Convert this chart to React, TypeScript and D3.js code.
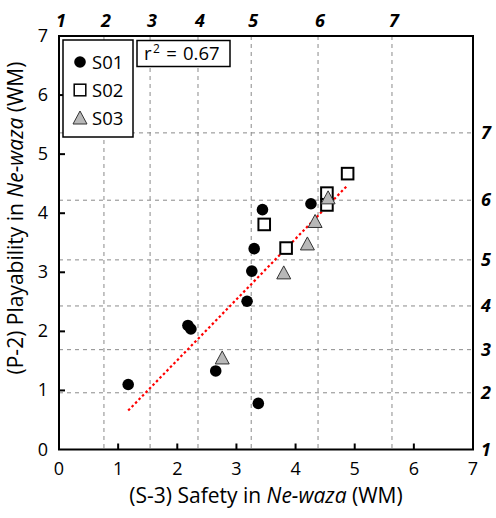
import React from "react";
import * as d3 from "d3";

// ---- data ----
const s01X = [1.17, 2.18, 2.23, 2.65, 3.37, 3.18, 3.26, 3.30, 3.44, 4.26];
const s01Y = [1.10, 2.10, 2.04, 1.33, 0.78, 2.51, 3.02, 3.40, 4.06, 4.16];
const s02X = [3.47, 3.84, 4.53, 4.53, 4.88];
const s02Y = [3.81, 3.41, 4.34, 4.14, 4.67];
const s03X = [2.76, 3.80, 4.20, 4.33, 4.55];
const s03Y = [1.55, 2.99, 3.48, 3.86, 4.26];

const mainTicks = [0, 1, 2, 3, 4, 5, 6, 7];
const topLabels = ["1", "2", "3", "4", "5", "6", "7"];
const topPositions = [0, 0.76, 1.54, 2.35, 3.25, 4.38, 5.63];
const rightLabels = ["1", "2", "3", "4", "5", "6", "7"];
const rightPositions = [0, 0.96, 1.69, 2.43, 3.21, 4.22, 5.36];
const seriesNames = ["S01", "S02", "S03"];
const r2Text = "0.67";

const xTitle = "(S-3) Safety in ";
const yTitle = "(P-2) Playability in ";

export default function App() {
  const W = 496, H = 518;
  const left = 59, right = 473, top = 36, bottom = 449.5;
  const x = d3.scaleLinear().domain([0, 7]).range([left, right]);
  const y = d3.scaleLinear().domain([0, 7]).range([bottom, top]);

  const font = "'Open Sans', sans-serif";

  // regression over all points
  const allX = [...s01X, ...s02X, ...s03X];
  const allY = [...s01Y, ...s02Y, ...s03Y];
  const mx = d3.mean(allX)!, my = d3.mean(allY)!;
  let sxy = 0, sxx = 0;
  allX.forEach((v, i) => { sxy += (v - mx) * (allY[i] - my); sxx += (v - mx) ** 2; });
  const slope = sxy / sxx;
  const icpt = my - slope * mx;
  const x0 = d3.min(allX)!, x1 = d3.max(allX)!;
  const line = d3.line<number>().x(d => x(d)).y(d => y(icpt + slope * d));

  const gridStyle = { stroke: "#8a8a8a", strokeWidth: 1, strokeDasharray: "4,4" };
  const triPath = (cx: number, cy: number, w = 14, h = 12) =>
    `M${cx},${cy - h / 2 - 1}L${cx + w / 2},${cy + h / 2}L${cx - w / 2},${cy + h / 2}Z`;

  return (
    <svg width={W} height={H} style={{ position: "absolute", left: 0, top: 0, background: "#fff" }}>
      <rect x={0} y={0} width={W} height={H} fill="#fff" />
      {/* grid */}
      {topPositions.slice(1).map((p, i) => (
        <line key={"vg" + i} x1={x(p)} x2={x(p)} y1={top} y2={bottom} style={gridStyle} />
      ))}
      {rightPositions.slice(1).map((p, i) => (
        <line key={"hg" + i} x1={left} x2={right} y1={y(p)} y2={y(p)} style={gridStyle} />
      ))}
      {/* regression */}
      <path d={line([x0, x1]) || ""} fill="none" stroke="#ff0000" strokeWidth={2.2} strokeDasharray="2.5,2.5" />
      {/* points */}
      {s01X.map((v, i) => (
        <circle key={"a" + i} cx={x(v)} cy={y(s01Y[i])} r={5.8} fill="#000" />
      ))}
      {s02X.map((v, i) => (
        <rect key={"b" + i} x={x(v) - 5.8} y={y(s02Y[i]) - 5.8} width={11.6} height={11.6} fill="#fff" stroke="#000" strokeWidth={2} />
      ))}
      {s03X.map((v, i) => (
        <path key={"c" + i} d={triPath(x(v), y(s03Y[i]))} fill="#b8b8b8" stroke="#333" strokeWidth={1} />
      ))}
      {/* frame */}
      <rect x={left} y={top} width={right - left} height={bottom - top} fill="none" stroke="#000" strokeWidth={2} />
      {/* inner ticks */}
      {mainTicks.slice(1, 7).map(t => (
        <line key={"bt" + t} x1={x(t)} x2={x(t)} y1={bottom} y2={bottom - 6} stroke="#000" strokeWidth={2} />
      ))}
      {mainTicks.slice(1, 7).map(t => (
        <line key={"lt" + t} x1={left} x2={left + 6} y1={y(t)} y2={y(t)} stroke="#000" strokeWidth={2} />
      ))}
      {/* bottom labels */}
      {mainTicks.map(t => (
        <text key={"bl" + t} x={x(t)} y={475} textAnchor="middle" fontFamily={font} fontSize={18} fill="#000">{t}</text>
      ))}
      {mainTicks.map(t => (
        <text key={"ll" + t} x={48} y={y(t) + 6} textAnchor="end" fontFamily={font} fontSize={18} fill="#000">{t}</text>
      ))}
      {/* top labels */}
      {topLabels.map((l, i) => (
        <text key={"tl" + i} x={x(topPositions[i]) + 2} y={27} textAnchor="middle" fontFamily={font} fontSize={18} fontWeight="bold" fontStyle="italic" fill="#000">{l}</text>
      ))}
      {rightLabels.map((l, i) => (
        <text key={"rl" + i} x={481} y={y(rightPositions[i]) + 6} textAnchor="start" fontFamily={font} fontSize={18} fontWeight="bold" fontStyle="italic" fill="#000">{l}</text>
      ))}
      {/* titles */}
      <text x={266} y={503} textAnchor="middle" fontFamily={font} fontSize={21} fill="#000">
        {xTitle}<tspan fontStyle="italic">Ne-waza</tspan> (WM)
      </text>
      <text transform="translate(23,218) rotate(-90)" textAnchor="middle" fontFamily={font} fontSize={21} fill="#000">
        {yTitle}<tspan fontStyle="italic">Ne-waza</tspan> (WM)
      </text>
      {/* legend */}
      <rect x={63} y={40} width={70} height={97} fill="#fff" stroke="#000" strokeWidth={1.5} />
      <circle cx={80} cy={62} r={5.8} fill="#000" />
      <rect x={74.2} y={84.2} width={11.6} height={11.6} fill="#fff" stroke="#000" strokeWidth={1.5} />
      <path d={triPath(80, 118)} fill="#b8b8b8" stroke="#333" strokeWidth={1} />
      {seriesNames.map((n, i) => (
        <text key={"lg" + i} x={92} y={69 + i * 28} fontFamily={font} fontSize={18.5} fill="#000">{n}</text>
      ))}
      {/* r2 box */}
      <rect x={137} y={40.5} width={93} height={26} fill="#fff" stroke="#000" strokeWidth={1.5} />
      <text x={144} y={60} fontFamily={font} fontSize={18.5} fill="#000">r</text>
      <text x={153} y={53} fontFamily={font} fontSize={12} fill="#000">2</text>
      <text x={171.5} y={60} textAnchor="middle" fontFamily={font} fontSize={18.5} fill="#000">=</text>
      <text x={183} y={60} fontFamily={font} fontSize={18.5} fill="#000">{r2Text}</text>
    </svg>
  );
}
